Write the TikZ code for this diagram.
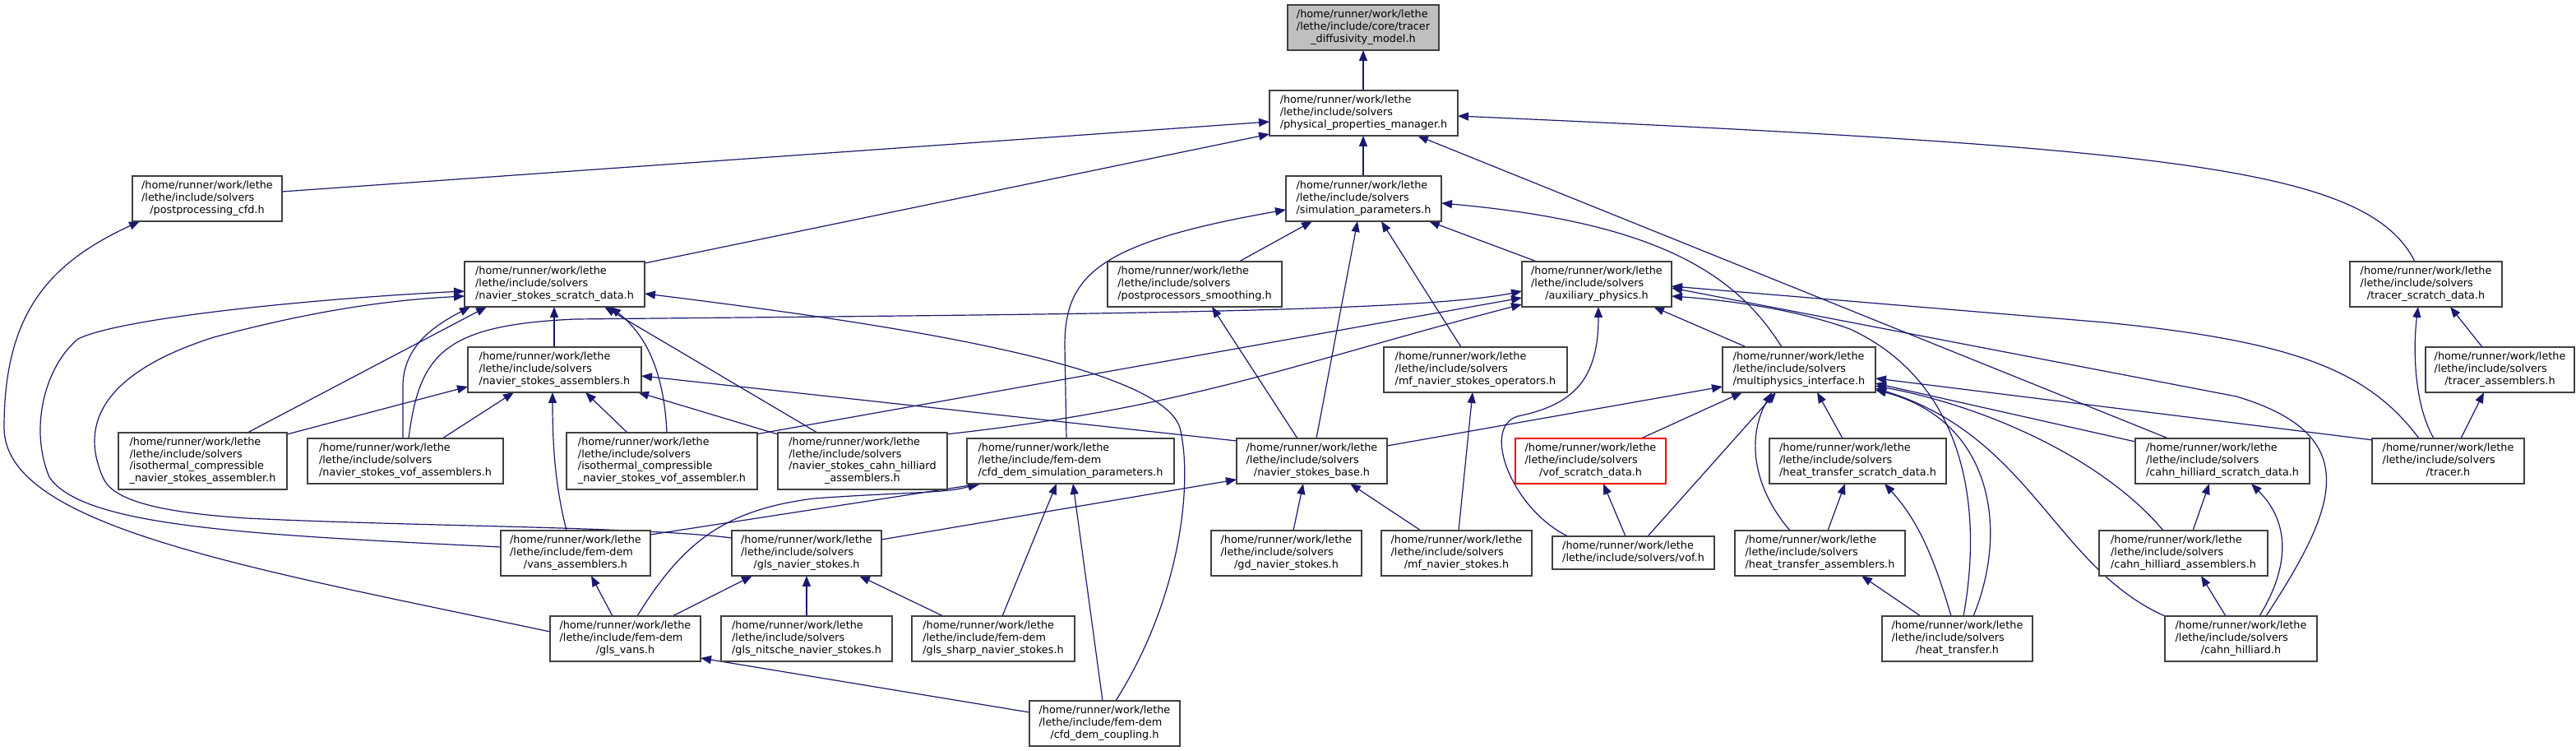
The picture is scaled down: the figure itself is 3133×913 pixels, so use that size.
\documentclass[tikz,border=0pt]{standalone}
\usepackage{fontspec}
\setmainfont{DejaVu Sans}
\usetikzlibrary{arrows.meta,backgrounds}
\definecolor{eb}{HTML}{191970}
\definecolor{nbd}{HTML}{404040}
\definecolor{rootfill}{HTML}{BFBFBF}
\newcommand{\PH}{/home/runner/work/lethe}
\newcommand{\PS}{/lethe/include/solvers}
\newcommand{\PF}{/lethe/include/fem-dem}
\newcommand{\lbl}[2]{\begin{tabular}{@{}l@{}}#1\\\multicolumn{1}{@{}c@{}}{#2}\end{tabular}}
\newcommand{\nd}[7][]{\node[nb,#1,minimum width=#5*0.5pt,minimum height=#6*0.5pt] (#2) at (#3,#4) {#7};}
\begin{document}
\begin{tikzpicture}[x=0.5pt,y=-0.5pt,
  nb/.style={draw=nbd,line width=0.75pt,fill=white,anchor=north west,inner sep=0pt,outer sep=0pt,font=\fontsize{6.4}{7.35}\selectfont},
  e/.style={draw=eb,line width=0.6pt,-{Triangle[length=6.5pt,width=5pt]}}]
\useasboundingbox (0,0) rectangle (3133,913);
% nodes
\nd[fill=rootfill]{T0}{1566}{6}{184}{55}{\lbl{\PH\\/lethe/include/core/tracer}{\_diffusivity\_model.h}}
\nd{PPM}{1544}{110}{229}{55}{\lbl{\PH\\\PS}{/physical\_properties\_manager.h}}
\nd{PCFD}{161}{214}{182}{55}{\lbl{\PH\\\PS}{/postprocessing\_cfd.h}}
\nd{SIM}{1564}{214}{189}{55}{\lbl{\PH\\\PS}{/simulation\_parameters.h}}
\nd{NSD}{565}{318}{219}{55}{\lbl{\PH\\\PS}{/navier\_stokes\_scratch\_data.h}}
\nd{SMO}{1347}{318}{212}{55}{\lbl{\PH\\\PS}{/postprocessors\_smoothing.h}}
\nd{AUX}{1851}{318}{182}{55}{\lbl{\PH\\\PS}{/auxiliary\_physics.h}}
\nd{TSD}{2858}{318}{185}{55}{\lbl{\PH\\\PS}{/tracer\_scratch\_data.h}}
\nd{NSA}{569}{422}{211}{55}{\lbl{\PH\\\PS}{/navier\_stokes\_assemblers.h}}
\nd{MFO}{1683}{422}{223}{55}{\lbl{\PH\\\PS}{/mf\_navier\_stokes\_operators.h}}
\nd{MPI}{2095}{422}{186}{55}{\lbl{\PH\\\PS}{/multiphysics\_interface.h}}
\nd{TRA}{2950}{422}{181}{55}{\lbl{\PH\\\PS}{/tracer\_assemblers.h}}
\nd{ICA}{144}{526}{205}{69}{\lbl{\PH\\\PS\\/isothermal\_compressible}{\_navier\_stokes\_assembler.h}}
\nd{NVA}{374}{533}{238}{55}{\lbl{\PH\\\PS}{/navier\_stokes\_vof\_assemblers.h}}
\nd{ICVA}{689}{526}{232}{69}{\lbl{\PH\\\PS\\/isothermal\_compressible}{\_navier\_stokes\_vof\_assembler.h}}
\nd{NCHA}{946}{526}{206}{69}{\lbl{\PH\\\PS\\/navier\_stokes\_cahn\_hilliard}{\_assemblers.h}}
\nd{CDSP}{1176}{533}{252}{55}{\lbl{\PH\\\PF}{/cfd\_dem\_simulation\_parameters.h}}
\nd{NSB}{1504}{533}{183}{55}{\lbl{\PH\\\PS}{/navier\_stokes\_base.h}}
\nd[draw=red]{VSD}{1843}{533}{183}{55}{\lbl{\PH\\\PS}{/vof\_scratch\_data.h}}
\nd{HTSD}{2152}{533}{215}{55}{\lbl{\PH\\\PS}{/heat\_transfer\_scratch\_data.h}}
\nd{CHSD}{2597}{533}{212}{55}{\lbl{\PH\\\PS}{/cahn\_hilliard\_scratch\_data.h}}
\nd{TRC}{2885}{533}{185}{55}{\lbl{\PH\\\PS}{/tracer.h}}
\nd{VANSA}{609}{645}{182}{55}{\lbl{\PH\\\PF}{/vans\_assemblers.h}}
\nd{GLSNS}{890}{645}{182}{55}{\lbl{\PH\\\PS}{/gls\_navier\_stokes.h}}
\nd{GDNS}{1473}{645}{183}{55}{\lbl{\PH\\\PS}{/gd\_navier\_stokes.h}}
\nd{MFNS}{1680}{645}{183}{55}{\lbl{\PH\\\PS}{/mf\_navier\_stokes.h}}
\nd{VOF}{1888}{652}{197}{40}{\lbl{\PH}{/lethe/include/solvers/vof.h}}
\nd{HTA}{2110}{645}{207}{55}{\lbl{\PH\\\PS}{/heat\_transfer\_assemblers.h}}
\nd{CHA}{2553}{645}{205}{55}{\lbl{\PH\\\PS}{/cahn\_hilliard\_assemblers.h}}
\nd{GLSV}{669}{749}{183}{55}{\lbl{\PH\\\PF}{/gls\_vans.h}}
\nd{GLSN}{877}{749}{208}{55}{\lbl{\PH\\\PS}{/gls\_nitsche\_navier\_stokes.h}}
\nd{GLSS}{1109}{749}{198}{55}{\lbl{\PH\\\PF}{/gls\_sharp\_navier\_stokes.h}}
\nd{HT}{2289}{749}{183}{55}{\lbl{\PH\\\PS}{/heat\_transfer.h}}
\nd{CH}{2633}{749}{185}{55}{\lbl{\PH\\\PS}{/cahn\_hilliard.h}}
\nd{CDC}{1252}{852}{183}{55}{\lbl{\PH\\\PF}{/cfd\_dem\_coupling.h}}
% edges
\begin{scope}[on background layer]
\fill[white] (0,0) rectangle (3133,913);
\draw[e] ([shift={(114,0)}]PPM.north west) -- ([shift={(92,55)}]T0.north west);
\draw[e] ([shift={(94,0)}]SIM.north west) -- ([shift={(114,55)}]PPM.north west);
\draw[e] ([shift={(182,19)}]PCFD.north west) -- ([shift={(0,38)}]PPM.north west);
\draw[e] ([shift={(219,2)}]NSD.north west) -- ([shift={(0,53)}]PPM.north west);
\draw[e] ([shift={(40,0)}]CHSD.north west) -- ([shift={(180,55)}]PPM.north west);
\draw[e] ([shift={(79,0)}]TSD.north west) .. controls (2880,205) and (2650,180) .. ([shift={(229,31)}]PPM.north west);
\draw[e] ([shift={(0,19)}]GLSV.north west) .. controls (300,690) and (5,640) .. (5,520) .. controls (5,380) and (60,320) .. ([shift={(9,55)}]PCFD.north west);
\draw[e] ([shift={(160,0)}]SMO.north west) -- ([shift={(32,55)}]SIM.north west);
\draw[e] ([shift={(121,0)}]CDSP.north west) -- (1295,420) .. controls (1295,335) and (1335,295) .. ([shift={(0,41)}]SIM.north west);
\draw[e] ([shift={(97,0)}]NSB.north west) -- ([shift={(87,55)}]SIM.north west);
\draw[e] ([shift={(94,0)}]MFO.north west) -- ([shift={(116,55)}]SIM.north west);
\draw[e] ([shift={(18,0)}]AUX.north west) -- ([shift={(174,55)}]SIM.north west);
\draw[e] ([shift={(72,0)}]MPI.north west) .. controls (2110,330) and (2010,270) .. ([shift={(189,33)}]SIM.north west);
\draw[e] ([shift={(123,0)}]NVA.north west) .. controls (510,430) and (540,395) .. (700,388) .. controls (1300,382) and (1720,380) .. ([shift={(0,36)}]AUX.north west);
\draw[e] ([shift={(230,2)}]ICVA.north west) -- ([shift={(0,44)}]AUX.north west);
\draw[e] ([shift={(204,2)}]NCHA.north west) .. controls (1450,495) and (1580,440) .. ([shift={(0,52)}]AUX.north west);
\draw[e] ([shift={(19,0)}]VOF.north west) .. controls (1840,620) and (1800,520) .. (1846,506) .. controls (1915,492) and (1944,460) .. ([shift={(93,55)}]AUX.north west);
\draw[e] ([shift={(29,0)}]MPI.north west) -- ([shift={(160,55)}]AUX.north west);
\draw[e] ([shift={(57,0)}]TRC.north west) .. controls (2880,450) and (2790,415) .. (2560,392) -- ([shift={(182,30)}]AUX.north west);
\draw[e] ([shift={(123,0)}]CH.north west) .. controls (2840,620) and (2880,530) .. (2720,482) -- ([shift={(182,32)}]AUX.north west);
\draw[e] ([shift={(99,0)}]HT.north west) .. controls (2415,600) and (2380,460) .. (2250,400) .. controls (2180,375) and (2100,365) .. ([shift={(182,42)}]AUX.north west);
\draw[e] ([shift={(0,20)}]VANSA.north west) .. controls (300,650) and (100,640) .. (60,580) .. controls (35,520) and (55,445) .. (95,412) .. controls (150,385) and (400,362) .. ([shift={(0,36)}]NSD.north west);
\draw[e] ([shift={(0,9)}]GLSNS.north west) .. controls (780,640) and (500,640) .. (300,630) .. controls (180,622) and (135,605) .. (125,580) .. controls (90,500) and (150,445) .. (260,410) .. controls (380,378) and (470,365) .. ([shift={(0,42)}]NSD.north west);
\draw[e] ([shift={(157,0)}]ICA.north west) -- ([shift={(27,55)}]NSD.north west);
\draw[e] ([shift={(116,0)}]NVA.north west) -- (490,470) .. controls (490,420) and (530,395) .. ([shift={(7,55)}]NSD.north west);
\draw[e] ([shift={(105,0)}]NSA.north west) -- ([shift={(109,55)}]NSD.north west);
\draw[e] ([shift={(48,0)}]NCHA.north west) -- ([shift={(170,55)}]NSD.north west);
\draw[e] ([shift={(122,0)}]ICVA.north west) .. controls (808,460) and (790,410) .. ([shift={(177,55)}]NSD.north west);
\draw[e] ([shift={(105,0)}]CDC.north west) .. controls (1440,720) and (1450,580) .. (1435,520) .. controls (1410,440) and (1050,390) .. ([shift={(219,39)}]NSD.north west);
\draw[e] ([shift={(205,2)}]ICA.north west) -- ([shift={(0,48)}]NSA.north west);
\draw[e] ([shift={(164,0)}]NVA.north west) -- ([shift={(56,55)}]NSA.north west);
\draw[e] ([shift={(80,0)}]VANSA.north west) .. controls (675,590) and (672,540) .. ([shift={(103,55)}]NSA.north west);
\draw[e] ([shift={(74,0)}]ICVA.north west) -- ([shift={(143,55)}]NSA.north west);
\draw[e] ([shift={(0,2)}]NCHA.north west) -- ([shift={(207,55)}]NSA.north west);
\draw[e] ([shift={(0,3)}]NSB.north west) -- ([shift={(211,35)}]NSA.north west);
\draw[e] ([shift={(182,11)}]GLSNS.north west) -- ([shift={(0,50)}]NSB.north west);
\draw[e] ([shift={(100,0)}]GDNS.north west) -- ([shift={(81,55)}]NSB.north west);
\draw[e] ([shift={(48,0)}]MFNS.north west) -- ([shift={(138,55)}]NSB.north west);
\draw[e] ([shift={(74,0)}]NSB.north west) -- ([shift={(127,55)}]SMO.north west);
\draw[e] ([shift={(183,9)}]NSB.north west) -- ([shift={(0,48)}]MPI.north west);
\draw[e] ([shift={(182,5)}]VANSA.north west) -- ([shift={(17,55)}]CDSP.north west);
\draw[e] ([shift={(106,0)}]GLSV.north west) .. controls (830,660) and (880,620) .. (990,606) .. controls (1100,598) and (1150,600) .. ([shift={(14,55)}]CDSP.north west);
\draw[e] ([shift={(110,0)}]GLSS.north west) -- ([shift={(109,55)}]CDSP.north west);
\draw[e] ([shift={(89,0)}]CDC.north west) -- ([shift={(129,55)}]CDSP.north west);
\draw[e] ([shift={(149,0)}]GLSV.north west) -- ([shift={(25,55)}]GLSNS.north west);
\draw[e] ([shift={(104,0)}]GLSN.north west) -- ([shift={(91,55)}]GLSNS.north west);
\draw[e] ([shift={(38,0)}]GLSS.north west) -- ([shift={(155,55)}]GLSNS.north west);
\draw[e] ([shift={(76,0)}]GLSV.north west) -- ([shift={(110,55)}]VANSA.north west);
\draw[e] ([shift={(0,14)}]CDC.north west) -- ([shift={(183,51)}]GLSV.north west);
\draw[e] ([shift={(94,0)}]MFNS.north west) -- ([shift={(108,55)}]MFO.north west);
\draw[e] ([shift={(153,0)}]VSD.north west) -- ([shift={(24,55)}]MPI.north west);
\draw[e] ([shift={(116,0)}]VOF.north west) -- ([shift={(65,55)}]MPI.north west);
\draw[e] ([shift={(67,0)}]HTA.north west) .. controls (2130,590) and (2125,530) .. ([shift={(60,55)}]MPI.north west);
\draw[e] ([shift={(89,0)}]HTSD.north west) -- ([shift={(115,55)}]MPI.north west);
\draw[e] ([shift={(89,0)}]VOF.north west) -- ([shift={(107,55)}]VSD.north west);
\draw[e] ([shift={(113,0)}]HTA.north west) -- ([shift={(92,55)}]HTSD.north west);
\draw[e] ([shift={(84,0)}]HT.north west) .. controls (2350,670) and (2330,630) .. ([shift={(140,55)}]HTSD.north west);
\draw[e] ([shift={(47,0)}]HT.north west) -- ([shift={(154,55)}]HTA.north west);
\draw[e] ([shift={(114,0)}]CHA.north west) -- ([shift={(90,55)}]CHSD.north west);
\draw[e] ([shift={(115,0)}]CH.north west) .. controls (2790,680) and (2780,630) .. ([shift={(141,55)}]CHSD.north west);
\draw[e] ([shift={(74,0)}]CH.north west) -- ([shift={(124,55)}]CHA.north west);
\draw[e] ([shift={(75,0)}]TRC.north west) .. controls (2935,490) and (2935,420) .. ([shift={(83,55)}]TSD.north west);
\draw[e] ([shift={(69,0)}]TRA.north west) -- ([shift={(122,55)}]TSD.north west);
\draw[e] ([shift={(108,0)}]TRC.north west) -- ([shift={(71,55)}]TRA.north west);
\draw[e] ([shift={(1,2)}]TRC.north west) -- ([shift={(186,38)}]MPI.north west);
\draw[e] ([shift={(0,4)}]CHSD.north west) -- ([shift={(186,44)}]MPI.north west);
\draw[e] ([shift={(78,0)}]CHA.north west) .. controls (2560,560) and (2420,495) .. ([shift={(186,47)}]MPI.north west);
\draw[e] (CH.north west) .. controls (2500,690) and (2470,530) .. ([shift={(186,50)}]MPI.north west);
\draw[e] ([shift={(111,0)}]HT.north west) .. controls (2445,640) and (2420,510) .. ([shift={(186,52)}]MPI.north west);
\end{scope}
\end{tikzpicture}
\end{document}
